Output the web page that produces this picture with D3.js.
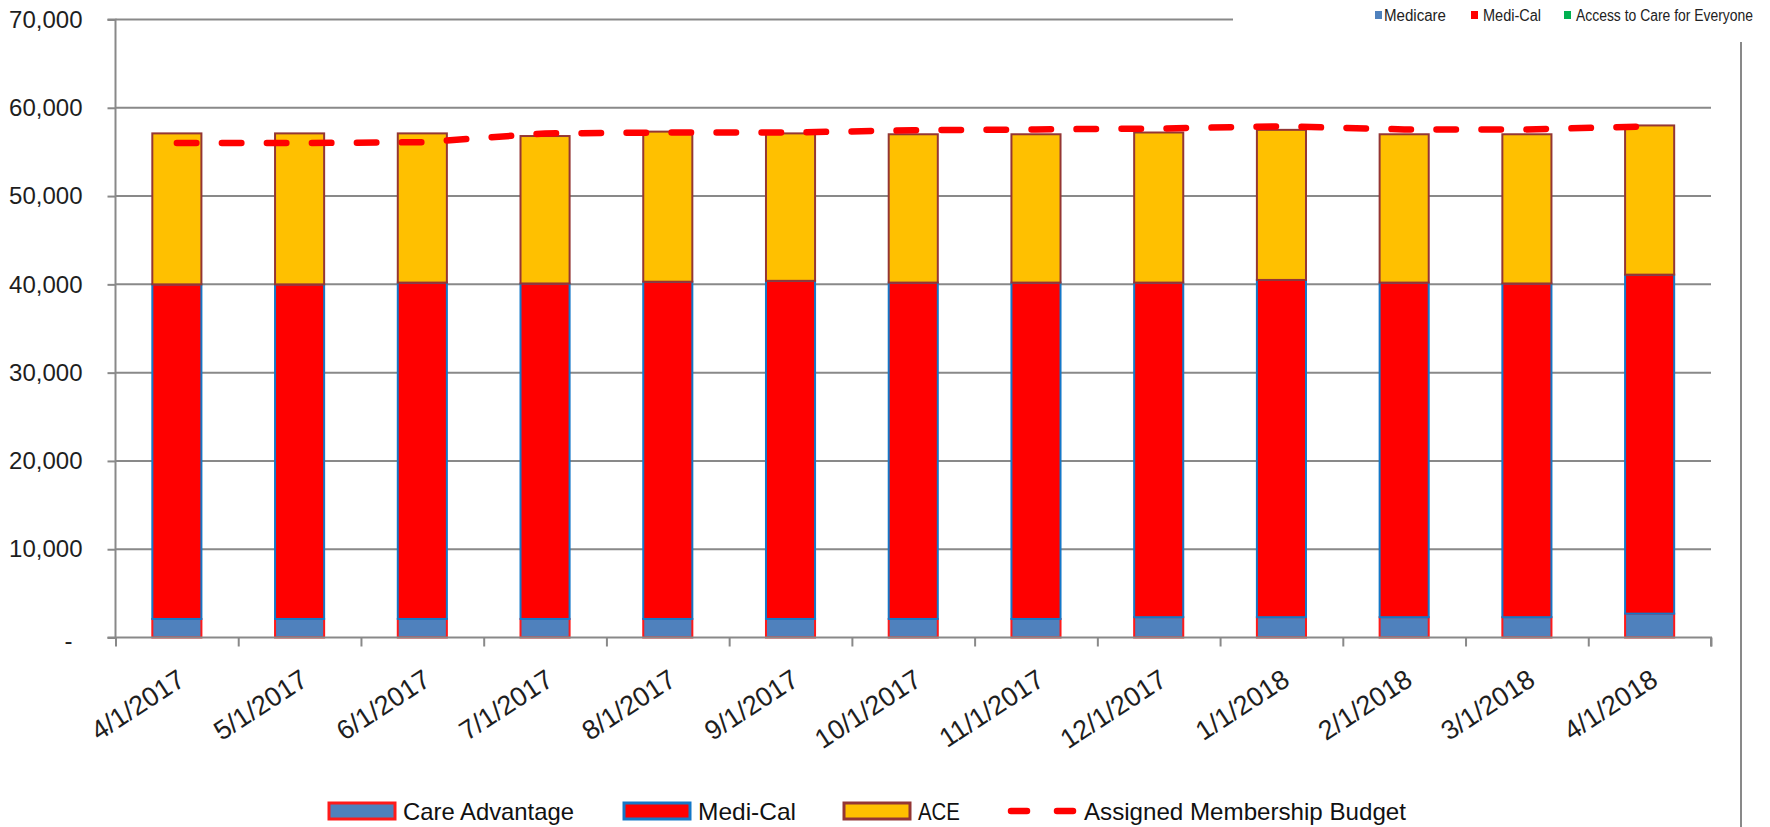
<!DOCTYPE html>
<html>
<head>
<meta charset="utf-8">
<script src="https://cdn.jsdelivr.net/npm/d3@7"></script>
<style>
  body { margin: 0; background: #fff; }
  svg { display: block; font-family: "Liberation Sans", Arial, sans-serif; }
</style>
</head>
<body>
<div id="chart"></div>
<script>
// data
var months = ["4/1/2017", "5/1/2017", "6/1/2017", "7/1/2017", "8/1/2017", "9/1/2017", "10/1/2017",
              "11/1/2017", "12/1/2017", "1/1/2018", "2/1/2018", "3/1/2018", "4/1/2018"];
var careAdvantage = [2100, 2100, 2100, 2100, 2100, 2100, 2100, 2100, 2300, 2300, 2300, 2300, 2700];
var mediCal = [37900, 37900, 38100, 38000, 38200, 38300, 38100, 38100, 37900, 38200, 37900, 37800, 38400];
var ace = [17100, 17100, 16900, 16700, 17000, 16700, 16800, 16800, 17000, 17000, 16800, 16900, 16900];
var budget = [56000, 56000, 56100, 57100, 57200, 57200, 57450, 57550, 57650, 57900, 57550, 57550, 57900];
var yTicks = [0, 10000, 20000, 30000, 40000, 50000, 60000, 70000];
var topLegend = ["Medicare", "Medi-Cal", "Access to Care for Everyone"];

var series = [
    {key: "ca", name: "Care Advantage", fill: "#4F81BD", stroke: "#FF1A1A"},
    {key: "mc", name: "Medi-Cal", fill: "#FF0000", stroke: "#1478C8"},
    {key: "ace", name: "ACE", fill: "#FFC000", stroke: "#943634"}
];

var W = 1770, H = 827;
// note: "top" is taken by window.top, so plot edges get their own names
var plotL = 115.5, plotR = 1711, plotT = 19.5, plotB = 637.5;
var grey = "#898989";

var svg = d3.select("#chart").append("svg").attr("width", W).attr("height", H);

var table = months.map(function(m, i) {
    return {month: m, ca: careAdvantage[i], mc: mediCal[i], ace: ace[i], budget: budget[i]};
});

var x = d3.scaleBand().domain(months).range([plotL, plotR]).paddingInner(0.6).paddingOuter(0.3);
var xEdge = d3.scaleLinear().domain([0, months.length]).range([plotL, plotR]);
var y = d3.scaleLinear().domain([0, 70000]).range([plotB, plotT]);

// gridlines
svg.append("g").selectAll("line").data(yTicks.slice(1)).enter().append("line")
    .attr("x1", plotL).attr("x2", plotR)
    .attr("y1", d => y(d)).attr("y2", d => y(d))
    .attr("stroke", grey).attr("stroke-width", 2);

// pasted legend box covers the top right
svg.append("rect").attr("x", 1233).attr("y", 0).attr("width", W - 1233).attr("height", 42).attr("fill", "#fff");
svg.append("line").attr("x1", 1741).attr("x2", 1741).attr("y1", 42).attr("y2", H)
    .attr("stroke", grey).attr("stroke-width", 2);

// y axis
var yAxis = svg.append("g").attr("transform", "translate(" + plotL + ",0)")
    .call(d3.axisLeft(y).tickValues(yTicks).tickSize(8).tickPadding(25)
        .tickFormat(d => d === 0 ? "-" : d3.format(",")(d)));
yAxis.select(".domain").attr("stroke", grey).attr("stroke-width", 2).attr("d", "M-8," + plotT + "H0V" + plotB);
yAxis.selectAll(".tick line").attr("stroke", grey).attr("stroke-width", 2);
yAxis.selectAll(".tick text").attr("fill", "#1e1e1e").style("font-size", "24px").style("font-family", "Liberation Sans");
yAxis.selectAll(".tick text").filter(d => d === 0).attr("dx", -10).attr("dy", "0.45em");

// stacked bars
var stacked = d3.stack().keys(series.map(s => s.key))(table);
stacked.forEach(function(layer, k) {
    svg.append("g").selectAll("rect").data(layer).enter().append("rect")
        .attr("x", d => x(d.data.month))
        .attr("width", x.bandwidth())
        .attr("y", d => y(d[1]))
        .attr("height", d => y(d[0]) - y(d[1]))
        .attr("fill", series[k].fill)
        .attr("stroke", series[k].stroke)
        .attr("stroke-width", 2);
});

// x axis
var xAxis = svg.append("g").attr("transform", "translate(0," + plotB + ")")
    .call(d3.axisBottom(xEdge).tickValues(d3.range(months.length + 1)).tickSize(9).tickFormat(""));
xAxis.select(".domain").attr("stroke", grey).attr("stroke-width", 2).attr("d", "M" + (plotL - 8) + ",0H" + plotR + "V9");
xAxis.selectAll(".tick line").attr("stroke", grey).attr("stroke-width", 2);

svg.append("g").selectAll("text").data(months).enter().append("text")
    .attr("transform", d => "translate(" + (x(d) + x.bandwidth() / 2 + 10) + ",684) rotate(-33)")
    .attr("text-anchor", "end")
    .attr("fill", "#1e1e1e")
    .style("font-size", "27px")
    .text(d => d);

// budget line
var line = d3.line().x(d => x(d.month) + x.bandwidth() / 2).y(d => y(d.budget));
svg.append("path").datum(table).attr("d", line)
    .attr("fill", "none").attr("stroke", "#FF0000").attr("stroke-width", 6.5)
    .attr("stroke-linecap", "round").attr("stroke-dasharray", "19.5,25.5");

// bottom legend
var legY = 811;
var legItems = [
    {s: series[0], x: 329, tx: 403, tw: 171},
    {s: series[1], x: 624, tx: 698, tw: 98},
    {s: series[2], x: 844, tx: 918, tw: 42}
];
var leg = svg.append("g");
legItems.forEach(function(it) {
    leg.append("rect").attr("x", it.x).attr("y", legY - 8).attr("width", 66).attr("height", 16)
        .attr("fill", it.s.fill).attr("stroke", it.s.stroke).attr("stroke-width", 3);
    leg.append("text").attr("x", it.tx).attr("y", legY).attr("dy", "0.36em")
        .attr("textLength", it.tw).attr("lengthAdjust", "spacingAndGlyphs")
        .style("font-size", "24px").attr("fill", "#111").text(it.s.name);
});
leg.append("line").attr("x1", 1011).attr("x2", 1075).attr("y1", legY).attr("y2", legY)
    .attr("stroke", "#FF0000").attr("stroke-width", 6.5).attr("stroke-linecap", "round")
    .attr("stroke-dasharray", "16,30");
leg.append("text").attr("x", 1084).attr("y", legY).attr("dy", "0.36em")
    .attr("textLength", 322).attr("lengthAdjust", "spacingAndGlyphs")
    .style("font-size", "24px").attr("fill", "#111").text("Assigned Membership Budget");

// small legend top right
var topColors = ["#4F81BD", "#FF0000", "#00B050"];
var topPos = [{sx: 1375, tx: 1384, tw: 62}, {sx: 1471, tx: 1483, tw: 58}, {sx: 1564, tx: 1576, tw: 177}];
var tl = svg.append("g");
topLegend.forEach(function(name, i) {
    tl.append("rect").attr("x", topPos[i].sx).attr("y", 11).attr("width", 7).attr("height", 8).attr("fill", topColors[i]);
    tl.append("text").attr("x", topPos[i].tx).attr("y", 15.5).attr("dy", "0.36em")
        .attr("textLength", topPos[i].tw).attr("lengthAdjust", "spacingAndGlyphs")
        .style("font-size", "16px").attr("fill", "#222").text(name);
});
</script>
</body>
</html>
